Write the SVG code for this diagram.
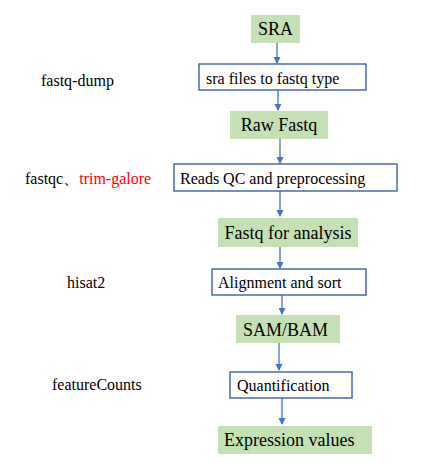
<svg xmlns="http://www.w3.org/2000/svg" width="436" height="463" viewBox="0 0 436 463">
<style>
.g{fill:#C5E0B4;stroke:none}
.w{fill:#fff;stroke:#2F5597;stroke-width:1.3}
text{font-family:"Liberation Serif","Times New Roman",serif;fill:#000}
.big{font-size:18px}
.sm{font-size:16px}
.c{stroke:#4472C4;stroke-width:1.3;fill:none;marker-end:url(#ah)}
</style>
<defs>
<marker id="ah" markerWidth="8" markerHeight="8" refX="6" refY="4" orient="auto" markerUnits="userSpaceOnUse">
<path d="M0,0.5 L7,4 L0,7.5 Z" fill="#4472C4"/>
</marker>
</defs>
<rect width="436" height="463" fill="#fff"/>
<g id="connectors">
<line class="c" x1="277" y1="43" x2="277" y2="63"/>
<line class="c" x1="278" y1="90" x2="278" y2="110"/>
<line class="c" x1="280" y1="139" x2="280" y2="163"/>
<line class="c" x1="280" y1="191" x2="280" y2="216"/>
<line class="c" x1="280" y1="247" x2="280" y2="268"/>
<line class="c" x1="282" y1="295" x2="282" y2="314"/>
<line class="c" x1="279" y1="343" x2="279" y2="370"/>
<line class="c" x1="282" y1="398" x2="282" y2="424"/>
</g>
<g id="sra"><rect class="g" x="251" y="15" width="49" height="28"/><text class="big" x="275.5" y="35" text-anchor="middle">SRA</text></g>
<g id="sra2fastq"><rect class="w" x="199" y="64" width="167" height="26"/><text class="sm" x="206" y="84">sra files to fastq type</text></g>
<g id="rawfastq"><rect class="g" x="230" y="111" width="98" height="28"/><text class="big" x="279" y="131" text-anchor="middle">Raw Fastq</text></g>
<g id="readsqc"><rect class="w" x="174" y="164" width="223" height="27"/><text class="sm" x="180" y="184">Reads QC and preprocessing</text></g>
<g id="fastqanalysis"><rect class="g" x="218" y="218" width="140" height="29"/><text class="big" x="288" y="239" text-anchor="middle">Fastq for analysis</text></g>
<g id="alignment"><rect class="w" x="212" y="269" width="154" height="26"/><text class="sm" x="218" y="288">Alignment and sort</text></g>
<g id="sambam"><rect class="g" x="236" y="315" width="104" height="28"/><text class="big" x="243" y="336">SAM/BAM</text></g>
<g id="quant"><rect class="w" x="230" y="372" width="122" height="26"/><text class="sm" x="237" y="391">Quantification</text></g>
<g id="expr"><rect class="g" x="218" y="426" width="154" height="28"/><text class="big" x="224" y="446">Expression values</text></g>
<g id="labels">
<text class="sm" x="41" y="86">fastq-dump</text>
<text class="sm" x="25" y="184">fastqc、<tspan fill="#FF0000">trim-galore</tspan></text>
<text class="sm" x="67" y="288">hisat2</text>
<text class="sm" x="52" y="390">featureCounts</text>
</g>
</svg>
